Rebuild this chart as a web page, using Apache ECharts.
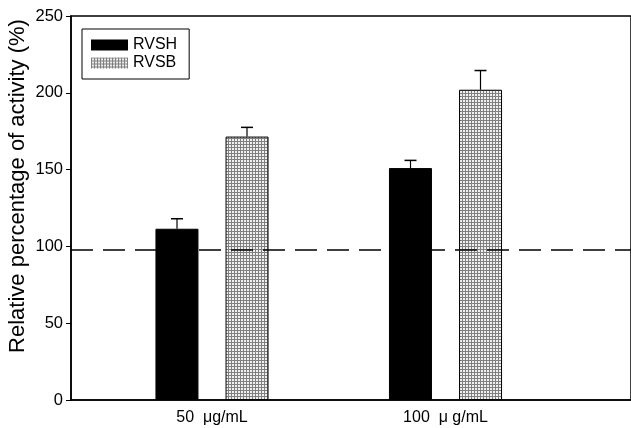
<!DOCTYPE html>
<html>
<head>
<meta charset="utf-8">
<script src="https://cdn.jsdelivr.net/npm/echarts@6/dist/echarts.min.js"></script>
<style>html,body{margin:0;padding:0;background:#fff}#c{width:631px;height:428px}</style>
</head>
<body>
<div id="c"></div>
<script>
var categories = ['50  \u03bcg/mL', '100  \u03bc g/mL'];
var seriesNames = ['RVSH', 'RVSB'];
var rvshValues = [111.5, 151];
var rvshErrors = [6.5, 5];
var rvsbValues = [171.5, 202];
var rvsbErrors = [6, 12.5];
var referenceLevel = 98;
var yTicks = [0, 50, 100, 150, 200, 250];
var yTitle = 'Relative percentage of activity (%)';

function makePattern() {
  var c = document.createElement('canvas');
  c.width = 3; c.height = 3;
  var ctx = c.getContext('2d');
  ctx.fillStyle = '#f0f0f0';
  ctx.fillRect(0, 0, 3, 3);
  ctx.fillStyle = '#808080';
  ctx.fillRect(0, 0, 3, 1);
  ctx.fillRect(0, 0, 1, 3);
  return c;
}
var pattern = { image: makePattern(), repeat: 'repeat' };

var chart = echarts.init(document.getElementById('c'), null, { renderer: 'canvas' });
var FONT = 'Liberation Sans, Arial, sans-serif';
var BAR_W = 43, HALF_SPACING = 35;

function errorItem(offset) {
  return function (params, api) {
    var cat = api.value(0), val = api.value(1), err = api.value(2);
    var base = api.coord([cat, val]);
    var top = api.coord([cat, val + err]);
    var x = base[0] + offset;
    return {
      type: 'group',
      children: [
        { type: 'line', shape: { x1: x, y1: base[1], x2: x, y2: top[1] }, style: { stroke: '#000', lineWidth: 1.2 } },
        { type: 'line', shape: { x1: x - 6, y1: top[1], x2: x + 6, y2: top[1] }, style: { stroke: '#000', lineWidth: 1.5 } }
      ]
    };
  };
}

chart.setOption({
  animation: false,
  backgroundColor: '#fff',
  textStyle: { fontFamily: FONT },
  grid: [
    { left: 95.25, right: 68.75, top: 16, bottom: 28 },
    { left: 71, right: -5, top: 16, bottom: 28, show: true, borderColor: '#000', borderWidth: 1.5, backgroundColor: 'transparent' }
  ],
  legend: {
    data: seriesNames,
    orient: 'vertical',
    left: 82, top: 29,
    borderColor: '#000', borderWidth: 1,
    padding: [8, 12, 8, 9],
    itemWidth: 37, itemHeight: 11, itemGap: 2,
    icon: 'rect',
    itemStyle: { borderWidth: 0 },
    textStyle: { fontSize: 16, color: '#000', fontFamily: FONT, lineHeight: 16 }
  },
  xAxis: [
    {
      type: 'category', gridIndex: 0, data: categories,
      axisLine: { show: false }, axisTick: { show: false },
      axisLabel: { fontSize: 16, color: '#000', margin: 10, fontFamily: FONT }
    },
    {
      type: 'value', gridIndex: 1, min: 0, max: 1,
      axisLine: { show: true, lineStyle: { color: '#000', width: 1.5 } },
      axisTick: { show: false }, axisLabel: { show: false }, splitLine: { show: false }
    }
  ],
  yAxis: [
    {
      type: 'value', gridIndex: 0, min: yTicks[0], max: yTicks[yTicks.length - 1], interval: 50,
      show: false, splitLine: { show: false }
    },
    {
      type: 'value', gridIndex: 1, min: yTicks[0], max: yTicks[yTicks.length - 1], interval: 50,
      axisLine: { show: true, lineStyle: { color: '#000', width: 1.5 } },
      axisTick: { show: true, inside: false, length: 5, lineStyle: { color: '#000', width: 1 } },
      axisLabel: { fontSize: 16.5, color: '#000', margin: 8, fontFamily: FONT },
      splitLine: { show: false }
    }
  ],
  graphic: [{
    type: 'text',
    x: 18, y: 186,
    rotation: Math.PI / 2,
    style: { text: yTitle, font: '22px ' + FONT, fill: '#000', align: 'center', verticalAlign: 'middle' }
  }],
  series: [
    {
      name: seriesNames[0], type: 'bar', xAxisIndex: 0, yAxisIndex: 0,
      barWidth: BAR_W, barGap: '63%',
      data: rvshValues,
      itemStyle: { color: '#000', borderColor: '#000', borderWidth: 1 }
    },
    {
      name: seriesNames[1], type: 'bar', xAxisIndex: 0, yAxisIndex: 0,
      barWidth: BAR_W, barGap: '63%',
      data: rvsbValues,
      itemStyle: { color: pattern, borderColor: '#000', borderWidth: 1 }
    },
    {
      type: 'custom', xAxisIndex: 0, yAxisIndex: 0, z: 5,
      renderItem: errorItem(-HALF_SPACING),
      data: rvshValues.map(function (v, i) { return [i, v, rvshErrors[i]]; })
    },
    {
      type: 'custom', xAxisIndex: 0, yAxisIndex: 0, z: 5,
      renderItem: errorItem(HALF_SPACING),
      data: rvsbValues.map(function (v, i) { return [i, v, rvsbErrors[i]]; })
    },
    {
      type: 'line', xAxisIndex: 1, yAxisIndex: 1, data: [], z: 10,
      markLine: {
        silent: true, symbol: 'none', label: { show: false },
        lineStyle: { color: '#000', type: [22, 10], width: 1.5 },
        data: [{ yAxis: referenceLevel }]
      }
    }
  ]
});
</script>
</body>
</html>
